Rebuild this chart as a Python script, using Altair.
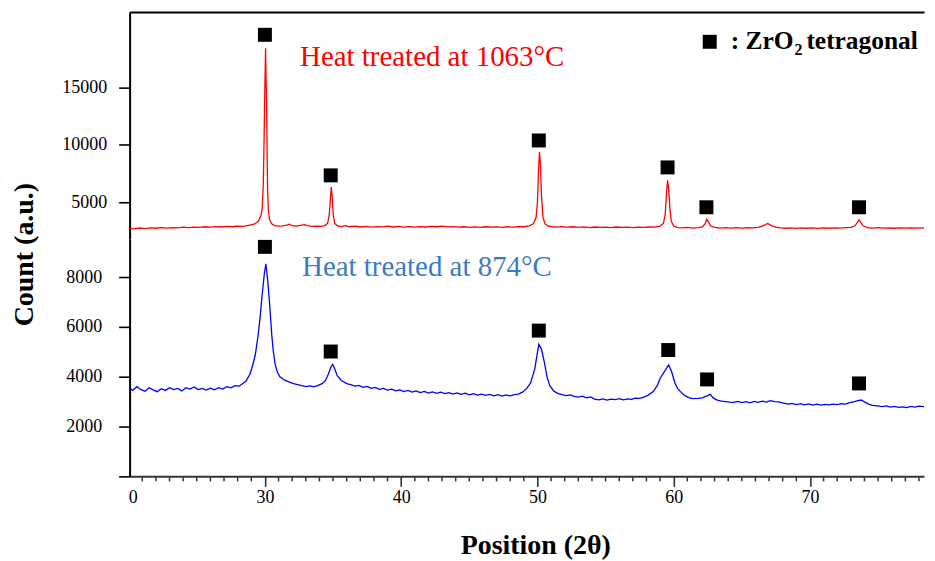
import altair as alt
import pandas as pd

FONT = "Liberation Serif"

# ---------------- data ----------------
red_theta = [
    20.07, 20.4, 20.8, 21.2, 21.6, 22.0, 22.4, 22.8, 23.2, 23.6,
    24.0, 24.4, 24.8, 25.2, 25.6, 26.0, 26.4, 26.8, 27.2, 27.6,
    28.0, 28.4, 28.8, 29.2, 29.5, 29.7, 29.8, 29.88, 29.94, 29.98,
    30.02, 30.05, 30.08, 30.12, 30.16, 30.2, 30.26, 30.35, 30.5, 30.7,
    31.0, 31.3, 31.6, 31.8, 32.0, 32.3, 32.6, 32.9, 33.2, 33.5,
    33.8, 34.1, 34.4, 34.6, 34.72, 34.8, 34.87, 34.94, 35.02, 35.12,
    35.3, 35.6, 35.9, 36.2, 36.6, 37.0, 37.4, 37.8, 38.2, 38.6,
    39.0, 39.4, 39.8, 40.2, 40.6, 41.0, 41.4, 41.8, 42.2, 42.6,
    43.0, 43.4, 43.8, 44.2, 44.6, 45.0, 45.4, 45.8, 46.2, 46.6,
    47.0, 47.4, 47.8, 48.2, 48.6, 49.0, 49.4, 49.7, 49.9, 50.0,
    50.08, 50.15, 50.22, 50.3, 50.4, 50.55, 50.8, 51.1, 51.4, 51.8,
    52.2, 52.6, 53.0, 53.4, 53.8, 54.2, 54.6, 55.0, 55.4, 55.8,
    56.2, 56.6, 57.0, 57.4, 57.8, 58.2, 58.6, 59.0, 59.25, 59.38,
    59.47, 59.55, 59.63, 59.72, 59.82, 60.0, 60.3, 60.6, 61.0, 61.4,
    61.8, 62.1, 62.3, 62.42, 62.55, 62.7, 63.0, 63.4, 63.8, 64.2,
    64.6, 65.0, 65.4, 65.8, 66.2, 66.5, 66.9, 67.2, 67.5, 67.8,
    68.2, 68.6, 69.0, 69.4, 69.8, 70.2, 70.6, 71.0, 71.4, 71.8,
    72.2, 72.6, 73.0, 73.3, 73.5, 73.6, 73.72, 73.9, 74.2, 74.6,
    75.0, 75.4, 75.8, 76.2, 76.6, 77.0, 77.4, 77.8, 78.37,
]
red_count = [
    2760, 2720, 2790, 2740, 2800, 2770, 2820, 2780, 2830, 2800,
    2860, 2820, 2870, 2840, 2900, 2860, 2910, 2880, 2930, 2900,
    2960, 2940, 3020, 3120, 3350, 3800, 4500, 6500, 10500, 13900,
    16500, 18400, 16000, 13900, 9500, 6000, 4200, 3500, 3150, 3000,
    2950, 2980, 3050, 3120, 2990, 2960, 3020, 3080, 2970, 2930,
    2960, 2940, 3000, 3200, 3900, 5200, 6350, 5400, 3900, 3200,
    3000, 2920, 2990, 2900, 2960, 2880, 2940, 2870, 2920, 2890,
    2950, 2880, 2930, 2870, 2910, 2860, 2920, 2880, 2940, 2900,
    2960, 2890, 2920, 2860, 2900, 2850, 2890, 2840, 2900, 2860,
    2890, 2850, 2900, 2870, 2920, 2900, 2980, 3150, 3700, 5000,
    7800, 9400, 8300, 5600, 3800, 3150, 2950, 2900, 2870, 2920,
    2860, 2900, 2840, 2890, 2830, 2880, 2840, 2870, 2830, 2880,
    2840, 2870, 2820, 2860, 2840, 2880, 2870, 2950, 3200, 4000,
    5800, 6930, 6200, 4500, 3400, 2950, 2830, 2800, 2840, 2790,
    2830, 2880, 3150, 3550, 3300, 2980, 2840, 2790, 2830, 2780,
    2820, 2790, 2830, 2800, 2850, 2950, 3180, 2980, 2860, 2800,
    2770, 2810, 2760, 2800, 2770, 2810, 2760, 2800, 2770, 2810,
    2780, 2820, 2840, 2980, 3300, 3500, 3300, 2980, 2830, 2790,
    2820, 2780, 2810, 2770, 2800, 2780, 2810, 2790, 2800,
]

blue_theta = [
    20.07, 20.3, 20.6, 20.9, 21.2, 21.5, 21.8, 22.1, 22.4, 22.7,
    23.0, 23.3, 23.6, 23.9, 24.2, 24.5, 24.8, 25.1, 25.4, 25.7,
    26.0, 26.3, 26.6, 26.9, 27.2, 27.5, 27.8, 28.1, 28.3, 28.6,
    28.9, 29.1, 29.3, 29.5, 29.65, 29.8, 29.95, 30.07, 30.2, 30.35,
    30.5, 30.62, 30.75, 30.9, 31.1, 31.45, 31.8, 32.1, 32.4, 32.7,
    33.0, 33.3, 33.6, 33.9, 34.2, 34.45, 34.65, 34.85, 34.97, 35.1,
    35.3, 35.6, 36.0, 36.3, 36.6, 36.9, 37.2, 37.5, 37.8, 38.1,
    38.4, 38.7, 39.0, 39.3, 39.6, 39.9, 40.2, 40.5, 40.8, 41.1,
    41.4, 41.7, 42.0, 42.3, 42.6, 42.9, 43.2, 43.5, 43.8, 44.1,
    44.4, 44.7, 45.0, 45.3, 45.6, 45.9, 46.2, 46.5, 46.8, 47.1,
    47.4, 47.7, 48.0, 48.3, 48.6, 48.9, 49.2, 49.5, 49.8, 50.1,
    50.3, 50.5, 50.7, 50.9, 51.2, 51.5, 51.8, 52.1, 52.4, 52.7,
    53.0, 53.3, 53.6, 53.9, 54.2, 54.5, 54.8, 55.1, 55.4, 55.7,
    56.0, 56.3, 56.6, 56.9, 57.2, 57.5, 57.8, 58.1, 58.5, 58.8,
    59.0, 59.2, 59.4, 59.63, 59.85, 60.1, 60.3, 60.5, 60.8, 61.1,
    61.4, 61.8, 62.1, 62.4, 62.68, 62.9, 63.2, 63.5, 63.8, 64.1,
    64.4, 64.7, 65.0, 65.3, 65.6, 65.9, 66.2, 66.5, 66.8, 67.1,
    67.4, 67.7, 68.0, 68.4, 68.7, 69.0, 69.3, 69.6, 69.9, 70.2,
    70.5, 70.8, 71.1, 71.4, 71.7, 72.0, 72.3, 72.6, 72.9, 73.2,
    73.45, 73.75, 74.0, 74.3, 74.6, 75.0, 75.3, 75.6, 75.9, 76.2,
    76.5, 76.8, 77.1, 77.4, 77.7, 78.0, 78.37,
]
blue_count = [
    3550, 3450, 3600, 3480, 3420, 3560, 3470, 3400, 3520, 3450,
    3560, 3480, 3530, 3430, 3560, 3500, 3590, 3480, 3530, 3460,
    3540, 3470, 3560, 3500, 3600, 3550, 3640, 3620, 3700, 3820,
    4100, 4450, 4900, 5650, 6400, 7300, 8100, 8530, 7900, 6900,
    5700, 5000, 4500, 4200, 4000, 3860, 3780, 3720, 3680, 3640,
    3600, 3630, 3590, 3650, 3720, 3850, 4100, 4400, 4490, 4350,
    4050, 3850, 3720, 3680, 3620, 3650, 3570, 3610, 3530, 3570,
    3490, 3530, 3460, 3500, 3430, 3470, 3400, 3450, 3380, 3430,
    3360, 3410, 3340, 3390, 3330, 3380, 3320, 3360, 3300, 3350,
    3290, 3340, 3270, 3320, 3260, 3300, 3250, 3290, 3230, 3280,
    3220, 3270, 3230, 3280, 3300, 3380, 3520, 3750, 4300, 5300,
    5100, 4600, 4000, 3650, 3420, 3330, 3280, 3240, 3270, 3210,
    3180, 3220, 3150, 3190, 3100, 3070, 3110, 3060, 3100, 3080,
    3120, 3070, 3110, 3090, 3140, 3130, 3180, 3250, 3400, 3650,
    3930, 4100, 4270, 4470, 4200, 3730, 3520, 3400, 3250, 3160,
    3120, 3130, 3150, 3220, 3290, 3150, 3060, 3020, 3000, 2980,
    2970, 3010, 2960, 3000, 2950, 3010, 2970, 3020, 2980, 3040,
    3000, 2990, 2950, 2900, 2930, 2880, 2920, 2870, 2910, 2860,
    2900, 2860, 2890, 2870, 2900, 2880, 2920, 2900, 2960, 2990,
    3030, 3065, 2990, 2900, 2850, 2825, 2800, 2830, 2780, 2810,
    2770, 2790, 2760, 2810, 2780, 2820, 2800,
]

# ZrO2 tetragonal peak markers
red_mark_theta = [30.0, 34.83, 50.1, 59.55, 62.4, 73.6]
red_mark_count = [19560, 7360, 10390, 8050, 4590, 4590]
blue_mark_theta = [30.0, 34.83, 50.1, 59.6, 62.45, 73.6]
blue_mark_count = [9210, 5010, 5850, 5070, 3890, 3730]

# axis ticks
x_major = [20.3, 30, 40, 50, 60, 70]
x_minor = [21, 22, 23, 24, 25, 26, 27, 28, 29,
           31, 32, 33, 34, 35, 36, 37, 38, 39,
           41, 42, 43, 44, 45, 46, 47, 48, 49,
           51, 52, 53, 54, 55, 56, 57, 58, 59,
           61, 62, 63, 64, 65, 66, 67, 68, 69,
           71, 72, 73, 74, 75, 76, 77, 78]
top_y_ticks = [5000, 10000, 15000]
bottom_y_ticks = [0, 2000, 4000, 6000, 8000]

red_label = ["Heat treated at 1063°C"]
blue_label = ["Heat treated at 874°C"]
legend_parts = [": ZrO", "2", "tetragonal"]

# ---------------- layout ----------------
W = 797
H_TOP = 228
H_BOT = 238

x_scale = alt.Scale(domain=[20.07, 78.37], nice=False, zero=False)
top_y_scale = alt.Scale(domain=[1825, 21548], nice=False, zero=False)
bot_y_scale = alt.Scale(domain=[0, 9520], nice=False, zero=False)

red_df = pd.DataFrame({"theta": red_theta, "count": red_count})
blue_df = pd.DataFrame({"theta": blue_theta, "count": blue_count})
red_marks = pd.DataFrame({"theta": red_mark_theta, "count": red_mark_count})
blue_marks = pd.DataFrame({"theta": blue_mark_theta, "count": blue_mark_count})
minor_df = pd.DataFrame({"theta": x_minor})

top_x_axis = alt.Axis(orient="top", labels=False, ticks=False, domain=True,
                      domainColor="black", domainWidth=2, title=None, grid=False)
top_y_axis = alt.Axis(values=top_y_ticks, format="d", grid=False, orient="left",
                      tickSize=11, tickWidth=1.6, tickColor="black",
                      domainColor="black", domainWidth=2,
                      labelFont=FONT, labelFontSize=18, labelColor="black",
                      labelPadding=12,
                      title="Count (a.u.)", titleFont=FONT, titleFontSize=28,
                      titleFontWeight="bold", titleColor="black",
                      titleAngle=270, titleX=-105, titleY=243,
                      titleAlign="center", titleBaseline="middle")

bot_x_axis = alt.Axis(orient="bottom", values=x_major, grid=False,
                      labelExpr="datum.value < 25 ? '0' : datum.label",
                      tickSize=10, tickWidth=1.6, tickColor="#333333",
                      tickOpacity={"condition": {"test": "datum.value < 25", "value": 0}, "value": 1},
                      domainColor="#333333", domainWidth=2,
                      labelFont=FONT, labelFontSize=18, labelColor="black",
                      labelPadding=2, labelFlush=False, labelOverlap=False,
                      title="Position (2θ)", titleFont=FONT, titleFontSize=28,
                      titleFontWeight="bold", titleColor="black",
                      titleX=407, titleY=77, titleAlign="center",
                      titleBaseline="alphabetic")
bot_y_axis = alt.Axis(values=bottom_y_ticks, format="d", grid=False, orient="left",
                      labelExpr="datum.value == 0 ? '' : datum.label",
                      tickSize=11, tickWidth=1.6, tickColor="black",
                      domainColor="black", domainWidth=2,
                      labelFont=FONT, labelFontSize=18, labelColor="black",
                      labelPadding=17, title=None)

# ---------------- top panel (1063 C) ----------------
red_line = alt.Chart(red_df).mark_line(color="#ff0000", strokeWidth=1.3).encode(
    x=alt.X("theta:Q", scale=x_scale, axis=top_x_axis),
    y=alt.Y("count:Q", scale=top_y_scale, axis=top_y_axis),
)
red_sq = alt.Chart(red_marks).mark_square(color="black", size=196, opacity=1).encode(
    x=alt.X("theta:Q", scale=x_scale, axis=top_x_axis),
    y=alt.Y("count:Q", scale=top_y_scale, axis=top_y_axis),
)
red_txt = alt.Chart(pd.DataFrame({"t": red_label})).mark_text(
    font=FONT, fontSize=29, color="#ff0000", align="left", baseline="alphabetic"
).encode(text="t:N", x=alt.value(171), y=alt.value(54))

leg_sq = alt.Chart(pd.DataFrame({"t": ["sq"]})).mark_square(
    color="black", size=196, opacity=1
).encode(x=alt.value(582), y=alt.value(30))
leg_t1 = alt.Chart(pd.DataFrame({"t": [legend_parts[0]]})).mark_text(
    font=FONT, fontSize=25.5, fontWeight="bold", color="black", align="left", baseline="alphabetic"
).encode(text="t:N", x=alt.value(603), y=alt.value(37))
leg_t2 = alt.Chart(pd.DataFrame({"t": [legend_parts[1]]})).mark_text(
    font=FONT, fontSize=16, fontWeight="bold", color="black", align="left", baseline="alphabetic"
).encode(text="t:N", x=alt.value(667), y=alt.value(43))
leg_t3 = alt.Chart(pd.DataFrame({"t": [legend_parts[2]]})).mark_text(
    font=FONT, fontSize=25.5, fontWeight="bold", color="black", align="left", baseline="alphabetic"
).encode(text="t:N", x=alt.value(679), y=alt.value(37))

top = alt.layer(red_line, red_sq, red_txt, leg_sq, leg_t1, leg_t2, leg_t3).properties(
    width=W, height=H_TOP
)

# ---------------- bottom panel (874 C) ----------------
blue_line = alt.Chart(blue_df).mark_line(color="#0000ff", strokeWidth=1.3).encode(
    x=alt.X("theta:Q", scale=x_scale, axis=bot_x_axis),
    y=alt.Y("count:Q", scale=bot_y_scale, axis=bot_y_axis),
)
blue_sq = alt.Chart(blue_marks).mark_square(color="black", size=196, opacity=1).encode(
    x=alt.X("theta:Q", scale=x_scale, axis=bot_x_axis),
    y=alt.Y("count:Q", scale=bot_y_scale, axis=bot_y_axis),
)
blue_txt = alt.Chart(pd.DataFrame({"t": blue_label})).mark_text(
    font=FONT, fontSize=29, color="#3b7bc4", align="left", baseline="alphabetic"
).encode(text="t:N", x=alt.value(173), y=alt.value(37))
minor = alt.Chart(minor_df).mark_rule(color="#333333", strokeWidth=1.5).encode(
    x=alt.X("theta:Q", scale=x_scale, axis=bot_x_axis),
    y=alt.value(H_BOT + 1), y2=alt.value(H_BOT + 5)
)

bottom = alt.layer(blue_line, blue_sq, blue_txt, minor).properties(
    width=W, height=H_BOT
)

chart = alt.vconcat(top, bottom, spacing=0, bounds="flush").properties(
    padding={"left": 3, "top": 3, "right": 0, "bottom": 0}
).configure(
    background="white", font=FONT
).configure_view(
    stroke=None
).configure_axis(
    labelFont=FONT, titleFont=FONT, grid=False
)

chart.save("out.html", embed_options={"renderer": "svg", "actions": False})
